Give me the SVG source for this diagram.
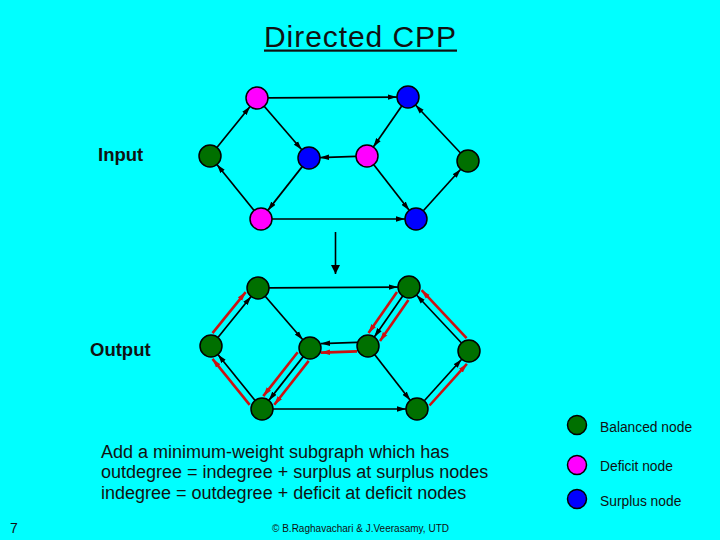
<svg xmlns="http://www.w3.org/2000/svg" width="720" height="540" viewBox="0 0 720 540">
<defs>
<style>
.bg{fill:#00FFFF}
.t{font-family:"Liberation Sans",Arial,sans-serif;fill:#111}
.b{fill:#007000;stroke:#000;stroke-width:1.5}
.p{fill:#FF00FF;stroke:#000;stroke-width:1.5}
.s{fill:#0000FF;stroke:#000;stroke-width:1.5}
.e{stroke:#000;stroke-width:1.7;fill:none;marker-end:url(#ab)}
.r{stroke:#CC1111;stroke-width:2.6;fill:none;marker-end:url(#ar)}
</style>
<marker id="ab" viewBox="0 0 10 6" refX="10" refY="3" markerWidth="9" markerHeight="6" markerUnits="userSpaceOnUse" orient="auto"><path d="M0,0 L10,3 L0,6 z" fill="#000"/></marker>
<marker id="ar" viewBox="0 0 10 6" refX="10" refY="3" markerWidth="9" markerHeight="6.5" markerUnits="userSpaceOnUse" orient="auto"><path d="M0,0 L10,3 L0,6 z" fill="#CC1111"/></marker>
<marker id="abig" viewBox="0 0 10 10" refX="10" refY="5" markerWidth="10" markerHeight="9" markerUnits="userSpaceOnUse" orient="auto"><path d="M0,0 L10,5 L0,10 z" fill="#000"/></marker>
</defs>
<rect class="bg" x="0" y="0" width="720" height="540"/>

<g id="title">
<text class="t" x="264" y="47" font-size="30" textLength="192" lengthAdjust="spacing">Directed CPP</text>
<rect x="264" y="49.5" width="193" height="2.2" fill="#111"/>
</g>

<text id="lbl-input" class="t" x="98" y="161" font-size="18.5" font-weight="bold">Input</text>
<text id="lbl-output" class="t" x="90" y="356" font-size="18.5" font-weight="bold">Output</text>

<!-- Input graph -->
<g id="input-graph">
<g id="input-connectors">
<line class="e" x1="268" y1="97.9" x2="397" y2="97.1"/>
<line class="e" x1="216.9" y1="147.5" x2="250.1" y2="106.5"/>
<line class="e" x1="264.2" y1="106.3" x2="301.8" y2="149.7"/>
<line class="e" x1="401.7" y1="106" x2="373.3" y2="147"/>
<line class="e" x1="356" y1="156.4" x2="320" y2="157.6"/>
<line class="e" x1="460.5" y1="153" x2="415.5" y2="105"/>
<line class="e" x1="302.2" y1="166.6" x2="267.8" y2="210.4"/>
<line class="e" x1="254.1" y1="210.5" x2="216.9" y2="164.5"/>
<line class="e" x1="272" y1="219" x2="405" y2="219"/>
<line class="e" x1="373.8" y1="164.7" x2="409.2" y2="210.3"/>
<line class="e" x1="423.3" y1="210.8" x2="460.7" y2="169.2"/>
</g>
<g id="in-A"><circle class="p" cx="257" cy="98" r="11"/></g>
<g id="in-B"><circle class="s" cx="408" cy="97" r="11"/></g>
<g id="in-C"><circle class="b" cx="210" cy="156" r="11"/></g>
<g id="in-D"><circle class="s" cx="309" cy="158" r="11"/></g>
<g id="in-E"><circle class="p" cx="367" cy="156" r="11"/></g>
<g id="in-F"><circle class="b" cx="468" cy="161" r="11"/></g>
<g id="in-G"><circle class="p" cx="261" cy="219" r="11"/></g>
<g id="in-H"><circle class="s" cx="416" cy="219" r="11"/></g>
</g>

<g id="transform-arrow">
<line x1="335.5" y1="232" x2="335.5" y2="274" stroke="#000" stroke-width="1.6" marker-end="url(#abig)"/>
</g>

<!-- Output graph -->
<g id="output-graph" transform="translate(1,190)">
<g id="output-connectors">
<line class="e" x1="268" y1="97.9" x2="397" y2="97.1"/>
<line class="e" x1="216.9" y1="147.5" x2="250.1" y2="106.5"/>
<line class="e" x1="264.2" y1="106.3" x2="301.8" y2="149.7"/>
<line class="e" x1="401.7" y1="106" x2="373.3" y2="147"/>
<line class="e" x1="356" y1="152.4" x2="320" y2="153.6"/>
<line class="e" x1="460.5" y1="153" x2="415.5" y2="105"/>
<line class="e" x1="302.2" y1="166.6" x2="267.8" y2="210.4"/>
<line class="e" x1="254.1" y1="210.5" x2="216.9" y2="164.5"/>
<line class="e" x1="272" y1="219" x2="405" y2="219"/>
<line class="e" x1="373.8" y1="164.7" x2="409.2" y2="210.3"/>
<line class="e" x1="423.3" y1="210.8" x2="460.7" y2="169.2"/>
<!-- added (red) -->
<line class="r" x1="211.5" y1="143.1" x2="244.7" y2="102.1"/>
<line class="r" x1="248.7" y1="214.9" x2="211.5" y2="168.9"/>
<line class="r" x1="307.7" y1="170.9" x2="273.3" y2="214.7"/>
<line class="r" x1="296.7" y1="162.3" x2="262.3" y2="206.1"/>
<line class="r" x1="356" y1="161.4" x2="320" y2="162.6"/>
<line class="r" x1="407.4" y1="110" x2="379" y2="151"/>
<line class="r" x1="396" y1="102" x2="367.5" y2="143"/>
<line class="r" x1="465.6" y1="148.2" x2="420.6" y2="100.2"/>
<line class="r" x1="428.5" y1="215.5" x2="465.9" y2="173.9"/>
</g>
<g id="out-A"><circle class="b" cx="257" cy="98" r="11"/></g>
<g id="out-B"><circle class="b" cx="408" cy="97" r="11"/></g>
<g id="out-C"><circle class="b" cx="210" cy="156" r="11"/></g>
<g id="out-D"><circle class="b" cx="309" cy="158" r="11"/></g>
<g id="out-E"><circle class="b" cx="367" cy="156" r="11"/></g>
<g id="out-F"><circle class="b" cx="468" cy="161" r="11"/></g>
<g id="out-G"><circle class="b" cx="261" cy="219" r="11"/></g>
<g id="out-H"><circle class="b" cx="416" cy="219" r="11"/></g>
</g>

<g id="legend">
<g id="leg-balanced"><circle class="b" cx="577" cy="425" r="9.5"/><text class="t" x="600" y="431.5" font-size="13.8">Balanced node</text></g>
<g id="leg-deficit"><circle class="p" cx="577" cy="465" r="9.5"/><text class="t" x="600" y="471" font-size="13.8">Deficit node</text></g>
<g id="leg-surplus"><circle class="s" cx="577" cy="499" r="9.5"/><text class="t" x="600" y="506" font-size="13.8">Surplus node</text></g>
</g>

<g id="caption">
<text class="t" x="101" y="457.5" font-size="18">Add a minimum-weight subgraph which has</text>
<text class="t" x="101" y="478" font-size="18">outdegree = indegree + surplus at surplus nodes</text>
<text class="t" x="101" y="498.5" font-size="18">indegree = outdegree + deficit at deficit nodes</text>
</g>

<text id="page-num" class="t" x="10" y="533" font-size="14">7</text>
<text id="copyright" class="t" x="272" y="532" font-size="10" textLength="177" lengthAdjust="spacing">© B.Raghavachari &amp; J.Veerasamy, UTD</text>
</svg>
